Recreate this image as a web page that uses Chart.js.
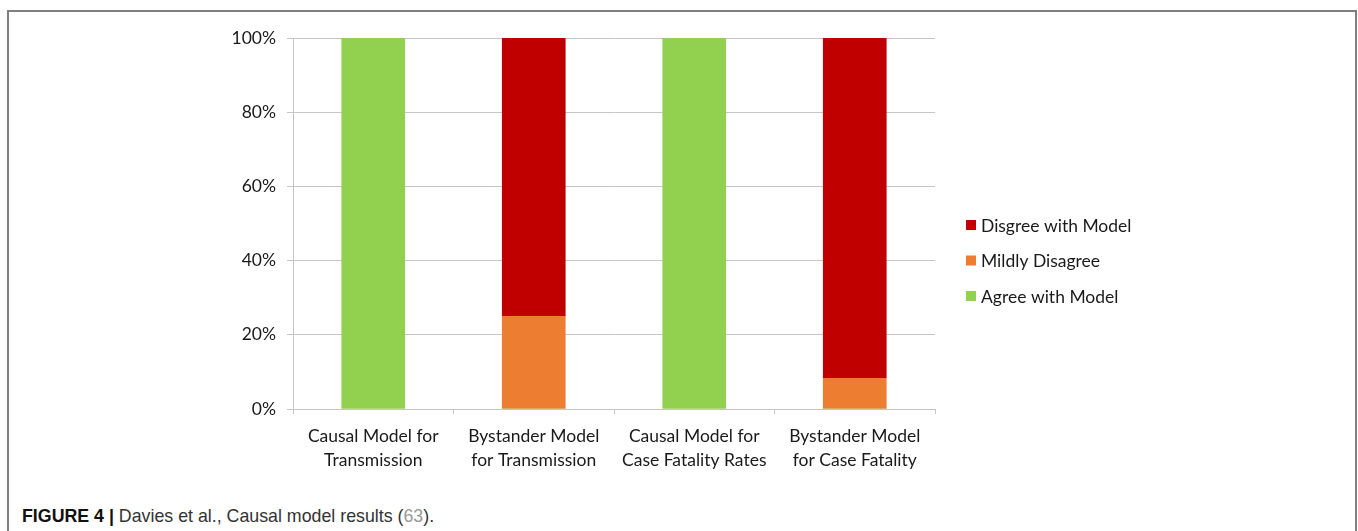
<!DOCTYPE html>
<html>
<head>
<meta charset="utf-8">
<script src="https://cdn.jsdelivr.net/npm/chart.js@4.4.1/dist/chart.umd.min.js"></script>
<style>
  html, body { margin: 0; padding: 0; background: #fff; }
  #wrap { position: relative; width: 1358px; height: 531px; overflow: hidden; }
  #frame {
    position: absolute; left: 7px; top: 10px; width: 1346px; height: 530px;
    border-top: 2px solid #7f7f7f; border-left: 2px solid #7f7f7f; border-right: 2px solid #7f7f7f;
  }
  #chart { position: absolute; left: 0; top: 0; }
  #caption {
    position: absolute; left: 22px; top: 506px;
    font-family: "Liberation Sans", Arial, sans-serif; font-size: 17.8px; color: #333;
    white-space: nowrap;
  }
  #caption b { color: #111; }
  #caption .ref { color: #999; }
</style>
</head>
<body>
<div id="wrap">
  <div id="frame"></div>
  <canvas id="chart" width="1358" height="480"></canvas>
  <div id="caption"><b>FIGURE 4 |</b> Davies et al., Causal model results (<span class="ref">63</span>).</div>
</div>
<script>
// Model categories (two-line axis labels)
const categories = [
  ["Causal Model for", "Transmission"],
  ["Bystander Model", "for Transmission"],
  ["Causal Model for", "Case Fatality Rates"],
  ["Bystander Model", "for Case Fatality"]
];

// Share of responses per model, in percent
const agreeWithModel   = [100, 0, 100, 0];
const mildlyDisagree   = [0, 25, 0, 8.3];
const disagreeWithModel = [0, 75, 0, 91.7];

const seriesNames = ["Agree with Model", "Mildly Disagree", "Disgree with Model"];
const seriesColors = ["#92d050", "#ed7d31", "#c00000"];

const yTickValues = [0, 20, 40, 60, 80, 100];

const FONT = "Lato, 'Open Sans', sans-serif";
const FONT_SIZE = 17.5;
const TEXT = "#1a1a1a";
const GRID = "#c6c6c6";

// Legend on the right, top-down in reverse stacking order
const sideLegend = {
  id: "sideLegend",
  afterDraw(chart, args, opts) {
    const ctx = chart.ctx;
    const ds = chart.data.datasets.slice().reverse();
    const n = ds.length;
    ctx.save();
    ctx.font = opts.fontSize + "px " + FONT;
    ctx.textBaseline = "middle";
    ctx.textAlign = "left";
    ds.forEach((d, i) => {
      const y = opts.centerY + (i - (n - 1) / 2) * opts.spacing;
      ctx.fillStyle = d.backgroundColor;
      ctx.fillRect(opts.x, y - opts.box / 2, opts.box, opts.box);
      ctx.fillStyle = TEXT;
      ctx.fillText(d.label, opts.x + opts.box + 5, y + 1);
    });
    ctx.restore();
  }
};

new Chart(document.getElementById("chart"), {
  type: "bar",
  data: {
    labels: categories,
    datasets: [
      { label: seriesNames[0], data: agreeWithModel, backgroundColor: seriesColors[0] },
      { label: seriesNames[1], data: mildlyDisagree, backgroundColor: seriesColors[1] },
      { label: seriesNames[2], data: disagreeWithModel, backgroundColor: seriesColors[2] }
    ]
  },
  options: {
    responsive: false,
    animation: false,
    layout: { padding: { left: 0, right: 423, top: 38, bottom: 0 } },
    datasets: { bar: { barThickness: 63 } },
    plugins: {
      legend: { display: false },
      tooltip: { enabled: false },
      sideLegend: { x: 966, centerY: 260.5, spacing: 35.5, box: 10, fontSize: FONT_SIZE }
    },
    scales: {
      x: {
        stacked: true,
        afterFit(scale) { scale.height = 71; },
        grid: { display: true, drawOnChartArea: false, drawTicks: true, tickLength: 5, color: GRID, offset: true },
        border: { display: true, color: GRID, width: 1 },
        ticks: { color: TEXT, padding: 10, maxRotation: 0, autoSkip: false,
                 font: { family: FONT, size: FONT_SIZE, lineHeight: "24px" } }
      },
      y: {
        stacked: true,
        min: 0, max: 100,
        afterFit(scale) { scale.width = 293; },
        afterBuildTicks(scale) { scale.ticks = yTickValues.map(v => ({ value: v })); },
        grid: { color: GRID, lineWidth: 1, tickLength: 6, drawTicks: true },
        border: { display: true, color: GRID, width: 1 },
        ticks: { color: TEXT, padding: 11, callback: v => v + "%",
                 font: { family: FONT, size: FONT_SIZE } }
      }
    }
  },
  plugins: [sideLegend]
});
</script>
</body>
</html>
